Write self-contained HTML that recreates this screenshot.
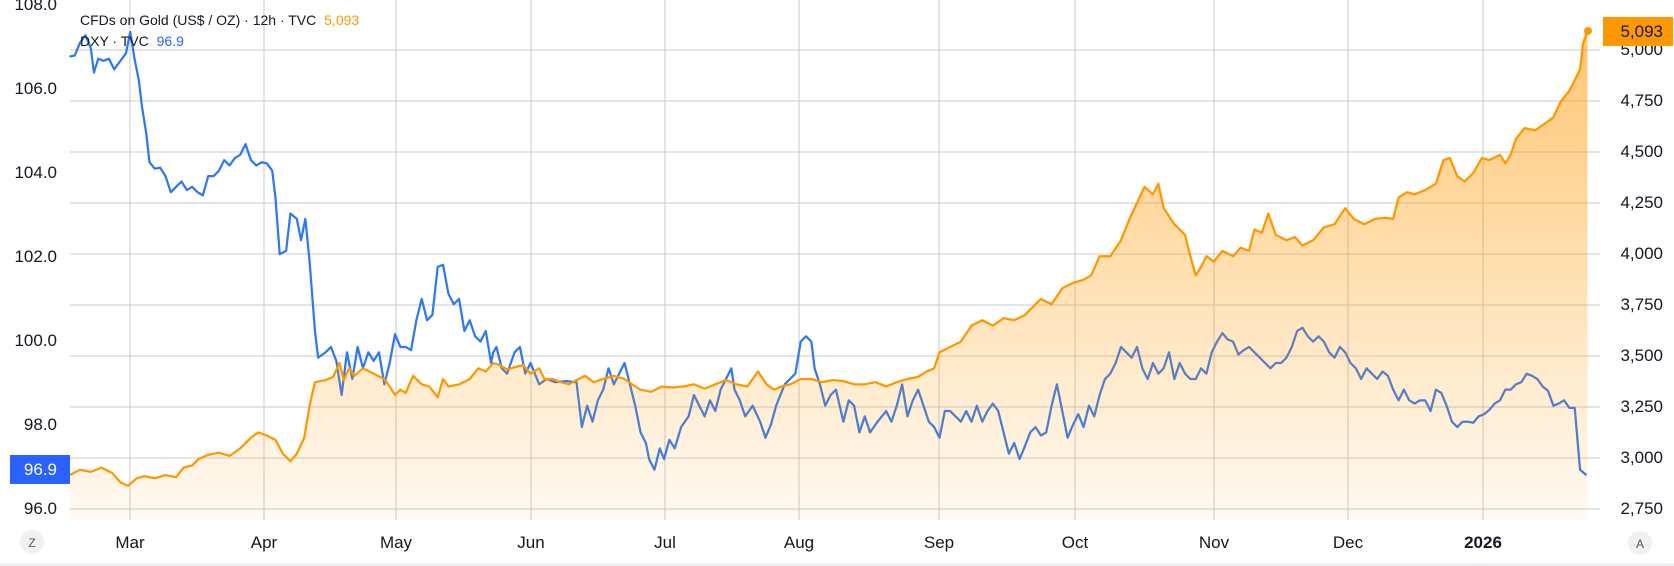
<!DOCTYPE html>
<html><head><meta charset="utf-8"><style>
body{margin:0;background:#fff;}
svg{display:block;font-family:"Liberation Sans","DejaVu Sans",sans-serif;}
</style></head><body>
<svg width="1674" height="566" viewBox="0 0 1674 566" xmlns="http://www.w3.org/2000/svg">
<defs>
<linearGradient id="g" x1="0" y1="0" x2="0" y2="1" gradientUnits="objectBoundingBox">
<stop offset="0" stop-color="#ff9800" stop-opacity="0.55"/>
<stop offset="1" stop-color="#ff9800" stop-opacity="0.05"/>
</linearGradient>
</defs>
<rect x="0" y="0" width="1674" height="566" fill="#fff"/>
<g stroke="#c9c9cc" stroke-width="1">
<line x1="70" y1="50" x2="1600" y2="50"/><line x1="70" y1="101" x2="1600" y2="101"/>
<line x1="70" y1="152" x2="1600" y2="152"/><line x1="70" y1="203" x2="1600" y2="203"/>
<line x1="70" y1="254" x2="1600" y2="254"/><line x1="70" y1="305" x2="1600" y2="305"/>
<line x1="70" y1="356" x2="1600" y2="356"/><line x1="70" y1="407" x2="1600" y2="407"/>
<line x1="70" y1="458" x2="1600" y2="458"/><line x1="70" y1="509" x2="1600" y2="509"/>
<line x1="130" y1="0" x2="130" y2="520"/><line x1="264" y1="0" x2="264" y2="520"/>
<line x1="396" y1="0" x2="396" y2="520"/><line x1="531" y1="0" x2="531" y2="520"/>
<line x1="665" y1="0" x2="665" y2="520"/><line x1="799" y1="0" x2="799" y2="520"/>
<line x1="939" y1="0" x2="939" y2="520"/><line x1="1075" y1="0" x2="1075" y2="520"/>
<line x1="1214" y1="0" x2="1214" y2="520"/><line x1="1348" y1="0" x2="1348" y2="520"/>
<line x1="1483" y1="0" x2="1483" y2="520"/>
</g>
<g transform="scale(1.0676)">
<polyline fill="none" stroke="#2f78f4" stroke-width="2.1" stroke-linejoin="round" points="65,53 70,52 75,40 80,33 85,45 88,68 92,55 97,57 102,55 107,65 112,58 118,50 122,30 126,55 130,75 133,100 137,125 140,152 145,158 150,157 155,165 160,180 165,175 170,170 175,178 180,175 185,180 190,183 195,165 200,165 205,160 210,150 215,155 220,148 225,145 230,135 235,150 240,155 245,152 250,153 255,160 258,185 262,238 268,235 272,200 278,205 282,225 286,205 290,245 295,310 298,335 305,330 310,325 315,338 320,370 325,330 330,355 335,325 340,345 345,330 350,338 355,330 360,360 365,340 370,313 375,325 380,325 385,328 390,300 395,280 400,300 405,295 410,250 415,248 420,275 425,285 430,280 435,310 440,300 445,315 450,320 455,310 460,340 462,330 465,325 470,345 475,350 482,330 487,325 492,350 497,340 505,360 512,355 520,358 530,357 540,358 545,400 550,380 555,395 560,375 565,365 570,345 575,360 580,350 585,340 590,360 595,380 600,405 605,415 608,430 613,440 618,420 622,430 627,412 632,420 638,400 645,390 650,370 655,380 660,390 665,375 670,385 675,365 680,355 685,345 688,365 693,375 698,390 705,380 712,395 717,410 722,398 727,380 735,360 740,355 745,350 750,320 755,315 760,320 763,345 768,360 773,380 778,370 783,365 790,395 795,375 800,380 805,405 810,390 815,405 822,395 830,385 835,395 840,380 845,360 850,390 855,375 860,365 865,380 870,395 875,400 880,410 885,385 890,385 895,390 900,395 905,385 910,395 915,380 920,395 925,385 930,378 935,385 940,405 945,425 950,415 955,430 960,418 965,405 970,400 975,408 980,405 985,380 990,360 995,385 1000,410 1005,398 1010,388 1015,400 1020,380 1025,390 1030,370 1035,355 1040,350 1045,340 1050,325 1055,330 1060,335 1065,325 1070,345 1075,355 1080,340 1085,350 1090,345 1095,330 1100,355 1105,340 1110,350 1115,355 1120,355 1125,345 1130,350 1135,330 1140,320 1145,312 1150,318 1155,320 1160,332 1165,328 1170,325 1175,330 1180,335 1185,340 1190,345 1195,340 1200,340 1205,335 1210,325 1215,310 1220,307 1225,315 1230,320 1235,315 1240,320 1245,330 1250,335 1255,325 1260,330 1265,340 1270,345 1275,355 1280,345 1285,350 1290,355 1295,348 1300,352 1305,365 1310,375 1315,365 1320,375 1325,378 1330,375 1335,375 1340,385 1345,365 1350,368 1355,380 1360,395 1365,400 1370,395 1375,395 1380,396 1385,390 1390,388 1395,384 1400,378 1405,375 1410,365 1415,365 1420,360 1425,358 1430,350 1435,352 1440,355 1445,362 1450,366 1455,380 1460,378 1465,375 1470,382 1475,382 1480,440 1486,445"/>
<path fill="url(#g)" stroke="none" d="M65,445 L75,440 85,442 95,438 105,443 113,452 120,455 128,448 135,446 145,448 155,445 165,447 172,438 180,436 186,430 195,426 205,424 215,427 225,420 235,410 242,405 250,408 258,412 265,425 272,432 278,425 285,410 290,380 295,358 305,356 312,353 318,340 322,356 327,345 332,352 340,345 350,350 360,355 365,362 370,370 375,365 380,368 387,352 395,360 402,362 410,372 415,355 420,362 430,360 440,355 448,345 455,348 462,340 468,342 475,346 482,344 490,342 497,350 505,345 510,355 518,355 525,358 533,360 540,356 548,352 556,358 565,355 575,352 585,355 592,360 600,365 610,367 620,362 630,363 640,362 650,360 660,364 670,360 680,356 690,360 700,362 710,348 718,360 725,365 732,362 740,360 750,355 760,355 770,358 780,356 790,357 800,360 810,360 820,358 830,362 840,358 850,355 860,353 868,348 875,345 880,330 890,325 900,320 910,305 920,300 930,305 940,298 950,300 960,295 970,285 975,280 985,285 995,270 1005,265 1015,262 1022,258 1030,240 1040,240 1050,225 1058,205 1065,190 1072,175 1080,182 1085,172 1090,195 1100,210 1110,220 1115,240 1120,258 1125,250 1130,240 1137,245 1145,235 1155,240 1162,232 1170,235 1175,215 1182,218 1188,200 1195,220 1205,225 1213,222 1220,230 1230,225 1240,213 1250,210 1260,195 1268,205 1278,210 1288,205 1298,204 1305,205 1310,185 1318,180 1325,182 1335,178 1345,172 1352,150 1358,148 1365,165 1372,170 1380,162 1388,148 1395,150 1405,145 1410,153 1415,145 1420,130 1428,120 1438,122 1448,115 1455,110 1462,95 1470,85 1475,75 1480,65 1483,40 1487,29 L1487,487 L65,487 Z"/>
<polyline fill="none" stroke="#ff9800" stroke-width="2.1" stroke-linejoin="round" points="65,445 75,440 85,442 95,438 105,443 113,452 120,455 128,448 135,446 145,448 155,445 165,447 172,438 180,436 186,430 195,426 205,424 215,427 225,420 235,410 242,405 250,408 258,412 265,425 272,432 278,425 285,410 290,380 295,358 305,356 312,353 318,340 322,356 327,345 332,352 340,345 350,350 360,355 365,362 370,370 375,365 380,368 387,352 395,360 402,362 410,372 415,355 420,362 430,360 440,355 448,345 455,348 462,340 468,342 475,346 482,344 490,342 497,350 505,345 510,355 518,355 525,358 533,360 540,356 548,352 556,358 565,355 575,352 585,355 592,360 600,365 610,367 620,362 630,363 640,362 650,360 660,364 670,360 680,356 690,360 700,362 710,348 718,360 725,365 732,362 740,360 750,355 760,355 770,358 780,356 790,357 800,360 810,360 820,358 830,362 840,358 850,355 860,353 868,348 875,345 880,330 890,325 900,320 910,305 920,300 930,305 940,298 950,300 960,295 970,285 975,280 985,285 995,270 1005,265 1015,262 1022,258 1030,240 1040,240 1050,225 1058,205 1065,190 1072,175 1080,182 1085,172 1090,195 1100,210 1110,220 1115,240 1120,258 1125,250 1130,240 1137,245 1145,235 1155,240 1162,232 1170,235 1175,215 1182,218 1188,200 1195,220 1205,225 1213,222 1220,230 1230,225 1240,213 1250,210 1260,195 1268,205 1278,210 1288,205 1298,204 1305,205 1310,185 1318,180 1325,182 1335,178 1345,172 1352,150 1358,148 1365,165 1372,170 1380,162 1388,148 1395,150 1405,145 1410,153 1415,145 1420,130 1428,120 1438,122 1448,115 1455,110 1462,95 1470,85 1475,75 1480,65 1483,40 1487,29"/>
</g>
<circle cx="1588" cy="31" r="4" fill="#ff9800"/>
<g font-size="17" fill="#131722" text-anchor="end">
<text x="57" y="10">108.0</text><text x="57" y="94">106.0</text><text x="57" y="178">104.0</text>
<text x="57" y="262">102.0</text><text x="57" y="346">100.0</text><text x="57" y="430">98.0</text>
<text x="57" y="514">96.0</text>
<text x="1663" y="106">4,750</text><text x="1663" y="157">4,500</text><text x="1663" y="208">4,250</text>
<text x="1663" y="259">4,000</text><text x="1663" y="310">3,750</text><text x="1663" y="361">3,500</text>
<text x="1663" y="412">3,250</text><text x="1663" y="463">3,000</text><text x="1663" y="514">2,750</text>
<text x="1663" y="55">5,000</text>
</g>
<rect x="1603" y="17" width="70" height="29" fill="#ff9800"/>
<text x="1663" y="37" font-size="17" fill="#131722" text-anchor="end">5,093</text>
<rect x="10" y="455" width="60" height="29" fill="#2962ff"/>
<text x="57" y="475" font-size="17" fill="#fff" text-anchor="end">96.9</text>
<g font-size="17" fill="#131722" text-anchor="middle">
<text x="130" y="548">Mar</text><text x="264" y="548">Apr</text><text x="396" y="548">May</text>
<text x="531" y="548">Jun</text><text x="665" y="548">Jul</text><text x="799" y="548">Aug</text>
<text x="939" y="548">Sep</text><text x="1075" y="548">Oct</text><text x="1214" y="548">Nov</text>
<text x="1348" y="548">Dec</text><text x="1483" y="548" font-weight="bold">2026</text>
</g>
<circle cx="32" cy="542" r="12" fill="#f0f0f0"/>
<text x="32" y="547" font-size="12" fill="#555" text-anchor="middle">Z</text>
<circle cx="1640" cy="543" r="12" fill="#f0f0f0"/>
<text x="1640" y="548" font-size="12" fill="#555" text-anchor="middle">A</text>
<rect x="0" y="563" width="1674" height="3" fill="#eef0f4"/>
<g font-size="14">
<text x="80" y="25" fill="#131722">CFDs on Gold (US$ / OZ) · 12h · TVC <tspan fill="#ff9800" dx="4">5,093</tspan></text>
<text x="80" y="46" fill="#131722">DXY · TVC <tspan fill="#2962ff" dx="4">96.9</tspan></text>
</g>
</svg>
</body></html>
